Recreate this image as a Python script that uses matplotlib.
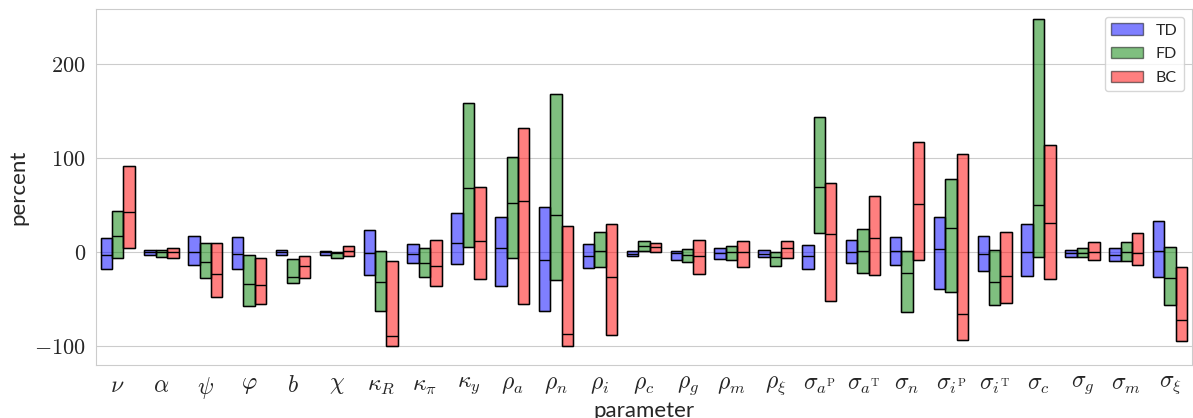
import matplotlib
matplotlib.use('Agg')
import matplotlib.pyplot as plt
import numpy as np
import seaborn as sns

sns.set_style('whitegrid')
plt.rcParams['font.family'] = ['Lato', 'DejaVu Sans']
plt.rcParams['mathtext.fontset'] = 'cm'

labels = [r'$\nu$', r'$\alpha$', r'$\psi$', r'$\varphi$', r'$b$', r'$\chi$',
          r'$\kappa_R$', r'$\kappa_\pi$', r'$\kappa_y$', r'$\rho_a$', r'$\rho_n$',
          r'$\rho_i$', r'$\rho_c$', r'$\rho_g$', r'$\rho_m$', r'$\rho_\xi$',
          r'$\sigma_{a^\mathrm{P}}$', r'$\sigma_{a^\mathrm{T}}$', r'$\sigma_n$',
          r'$\sigma_{i^\mathrm{P}}$', r'$\sigma_{i^\mathrm{T}}$', r'$\sigma_c$',
          r'$\sigma_g$', r'$\sigma_m$', r'$\sigma_\xi$']

# min / median / max per parameter (percent)
td_min = [-17.8, -3.0, -13.9, -17.8, -3.2, -2.5, -23.9, -11.4, -12.8, -35.9, -62.2, -17.1, -3.5,
          -7.9, -7.1, -4.6, -17.8, -11.4, -13.5, -38.8, -19.6, -25.6, -4.6, -9.6, -26.3]
td_med = [-2.9, 0.0, 0.0, -1.4, 0.4, 0.0, -0.7, -1.8, 9.6, 4.3, -8.6, -4.3, -1.5,
          -1.0, -0.7, -1.4, -3.9, 0.0, 1.0, 3.5, -2.1, 0.7, -0.4, -3.2, 1.0]
td_max = [15.6, 2.5, 17.7, 16.6, 2.8, 1.7, 23.4, 8.5, 42.2, 37.6, 48.0, 9.2, 1.0,
          1.7, 4.3, 2.1, 7.8, 13.1, 16.3, 37.3, 17.4, 30.2, 2.5, 4.9, 33.7]

fd_min = [-6.4, -5.0, -27.0, -56.9, -32.7, -6.4, -62.9, -26.3, 5.7, -6.0, -29.5, -16.0, 1.7,
          -10.0, -8.2, -14.9, 20.3, -21.7, -63.3, -42.6, -56.5, -5.0, -5.3, -9.3, -55.8]
fd_med = [17.7, 0.0, -10.0, -33.8, -26.0, -1.0, -31.3, -11.7, 68.9, 52.6, 39.4, 1.7, 6.4,
          -2.9, 0.0, -5.3, 69.3, 1.0, -21.7, 25.6, -31.7, 50.1, -1.0, 0.0, -27.0]
fd_max = [43.7, 2.8, 9.9, -2.5, -6.8, 0.7, 1.4, 4.9, 158.4, 101.6, 168.4, 21.3, 11.7,
          3.5, 6.7, 0.7, 144.2, 25.2, 1.7, 78.5, 2.1, 248.0, 4.3, 11.3, 6.0]

bc_min = [4.3, -5.7, -48.0, -55.5, -27.0, -3.6, -99.5, -35.6, -28.8, -54.8, -99.5, -88.5, 0.3,
          -22.8, -15.7, -5.7, -51.6, -24.5, -8.6, -93.5, -53.7, -28.1, -8.6, -13.9, -94.6]
bc_med = [43.0, 0.0, -23.0, -35.2, -14.3, 1.4, -89.6, -14.9, 12.0, 54.4, -87.1, -26.0, 6.0,
          -4.3, 0.0, 4.3, 19.2, 15.2, 51.2, -65.8, -25.3, 30.9, 0.4, -1.0, -72.2]
bc_max = [92.3, 4.6, 9.9, -5.7, -3.6, 6.7, -9.6, 12.8, 70.0, 132.5, 28.0, 30.2, 10.2,
          13.1, 12.0, 12.0, 73.6, 60.0, 116.9, 104.8, 21.6, 114.4, 10.6, 20.3, -15.7]

series = [('TD', 'blue', td_min, td_med, td_max),
          ('FD', 'green', fd_min, fd_med, fd_max),
          ('BC', 'red', bc_min, bc_med, bc_max)]

fig = plt.figure(figsize=(11.93, 4.18), dpi=100)
ax = fig.add_axes([0.0802, 0.1268, 0.919, 0.8517])

n = len(labels)
x = np.arange(n)
w = 0.26
for k, (name, col, lo, med, hi) in enumerate(series):
    lo, med, hi = np.array(lo), np.array(med), np.array(hi)
    xs = x + (k - 1) * w
    ax.bar(xs, hi - lo, bottom=lo, width=w, color=col, alpha=0.5,
           edgecolor='black', linewidth=1.0, label=name)
    # solid outline + median line on top
    ax.bar(xs, hi - lo, bottom=lo, width=w, fill=False,
           edgecolor='black', linewidth=1.0)
    ax.hlines(med, xs - w / 2, xs + w / 2, color='black', linewidth=1.0)

ax.set_xticks(x)
ax.set_xticklabels(labels, fontsize=17)
ax.set_xlim(-0.5, n - 0.5)
ax.set_ylim(-120, 259)
ax.set_yticks([-100, 0, 100, 200])
ax.set_yticklabels([r'$-100$', r'$0$', r'$100$', r'$200$'], fontsize=16)
ax.xaxis.grid(False)
ax.set_ylabel('percent', fontsize=16)
ax.set_xlabel('parameter', fontsize=16, labelpad=0)
ax.legend(loc='upper right', fontsize=11.5, frameon=True, labelspacing=0.6)

fig.savefig('out.png', dpi=100)
